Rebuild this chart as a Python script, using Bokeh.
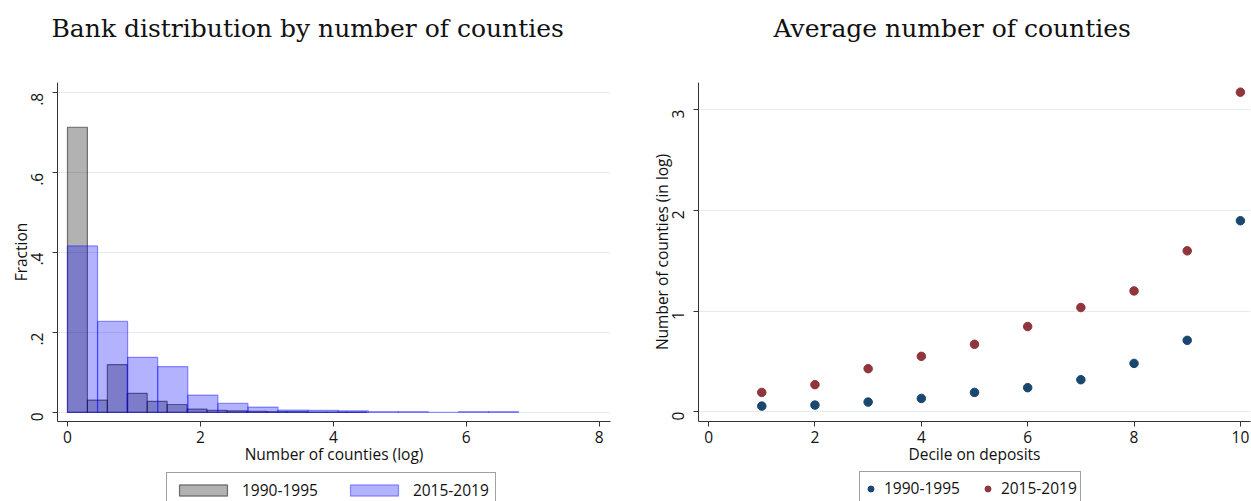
from bokeh.plotting import figure
from bokeh.layouts import row, column
from bokeh.models import Range1d, FixedTicker, Legend, LegendItem, Title
from bokeh.embed import file_html
from bokeh.resources import INLINE
import math

# ---------------- data ----------------
hist_title = "Bank distribution by number of counties"
scatter_title = "Average number of counties"

series_names = ["1990-1995", "2015-2019"]

# histogram: fraction of banks per bin of log(number of counties)
bin_width_1990 = 0.3
fraction_1990 = [0.714, 0.031, 0.120, 0.048, 0.028, 0.020, 0.0085, 0.005,
                 0.004, 0.003, 0.002, 0.002, 0.001, 0.001, 0.001]
bin_width_2015 = 0.4525
fraction_2015 = [0.417, 0.228, 0.138, 0.115, 0.0436, 0.0226, 0.0135, 0.006,
                 0.005, 0.004, 0.002, 0.002, 0.0, 0.002, 0.002]

hist_x_ticks = [0, 2, 4, 6, 8]
hist_y_ticks = [0, 0.2, 0.4, 0.6, 0.8]
hist_y_labels = ["0", ".2", ".4", ".6", ".8"]

# scatter: average log number of counties by decile of deposits
deciles = [1, 2, 3, 4, 5, 6, 7, 8, 9, 10]
counties_1990 = [0.056, 0.066, 0.096, 0.132, 0.192, 0.239, 0.318, 0.48, 0.709, 1.897]
counties_2015 = [0.192, 0.269, 0.428, 0.55, 0.67, 0.846, 1.035, 1.2, 1.598, 3.174]

scatter_x_ticks = [0, 2, 4, 6, 8, 10]
scatter_y_ticks = [0, 1, 2, 3]

# ---------------- style ----------------
SANS = "Open Sans"
SANS_SIZE = "15.5px"
SERIF = "DejaVu Serif"
GRID = "#e4ebee"
AXIS = "#333333"
NAVY = "#1a476f"
MAROON = "#90353b"
GRAY_STYLE = dict(fill_color="black", fill_alpha=0.3, line_color="black",
                  line_alpha=0.5, line_width=1.2)
BLUE_STYLE = dict(fill_color="blue", fill_alpha=0.3, line_color="blue",
                  line_alpha=0.4, line_width=1.2)

TITLE_H = 66
MAIN_H = 404
LEG_H = 31
LEFT_W = 626
RIGHT_W = 625


def style_axes(p):
    for ax in (p.xaxis[0], p.yaxis[0]):
        ax.axis_line_color = AXIS
        ax.major_tick_line_color = AXIS
        ax.minor_tick_line_color = None
        ax.major_tick_out = 5
        ax.major_tick_in = 0
        ax.major_label_text_font = SANS
        ax.major_label_text_font_size = SANS_SIZE
        ax.major_label_text_color = "#111111"
        ax.axis_label_text_font = SANS
        ax.axis_label_text_font_size = SANS_SIZE
        ax.axis_label_text_font_style = "normal"
        ax.axis_label_text_color = "#111111"
    p.xaxis[0].major_label_standoff = 4
    p.xaxis[0].axis_label_standoff = -3
    p.yaxis[0].major_label_standoff = 15
    p.yaxis[0].axis_label_standoff = -9
    p.yaxis[0].major_label_orientation = math.pi / 2
    p.xgrid.grid_line_color = None
    p.ygrid.grid_line_color = GRID
    p.ygrid.grid_line_width = 1
    p.outline_line_color = None
    p.background_fill_color = "white"
    p.border_fill_color = "white"


def blank_fig(width, height):
    f = figure(width=width, height=height, output_backend="svg", toolbar_location=None,
               x_axis_type=None, y_axis_type=None, min_border=0,
               x_range=Range1d(100, 101), y_range=Range1d(100, 101))
    f.grid.grid_line_color = None
    f.outline_line_color = None
    f.background_fill_color = "white"
    f.border_fill_color = "white"
    return f


def title_fig(width, text, offset):
    f = blank_fig(width, TITLE_H)
    f.title = Title(text=text, align="left", vertical_align="top",
                    text_font=SERIF, text_font_size="25px",
                    text_font_style="normal", text_color="#111111", standoff=26,
                    offset=offset)
    return f


def make_legend(items, loc, **kw):
    return Legend(items=items, orientation="horizontal", location=loc,
                  margin=0, label_text_font=SANS, label_text_font_size=SANS_SIZE,
                  label_text_color="#111111",
                  border_line_color="#444444", border_line_width=1,
                  background_fill_color="white", background_fill_alpha=1, **kw)


# ---------------- left: histogram ----------------
t1 = title_fig(LEFT_W, hist_title, 51)

p1 = figure(width=LEFT_W, height=MAIN_H, output_backend="svg", toolbar_location=None,
            x_range=Range1d(-0.15, 8.17), y_range=Range1d(-0.0226, 0.826),
            min_border_left=57, min_border_right=16, min_border_top=16,
            min_border_bottom=49)

left_1990 = [i * bin_width_1990 for i in range(len(fraction_1990))]
right_1990 = [l + bin_width_1990 for l in left_1990]
left_2015 = [i * bin_width_2015 for i in range(len(fraction_2015))]
right_2015 = [l + bin_width_2015 for l in left_2015]

p1.quad(left=left_1990, right=right_1990, bottom=0, top=fraction_1990, **GRAY_STYLE)
p1.quad(left=left_2015, right=right_2015, bottom=0, top=fraction_2015, **BLUE_STYLE)

p1.xaxis.ticker = FixedTicker(ticks=hist_x_ticks)
p1.yaxis.ticker = FixedTicker(ticks=hist_y_ticks)
p1.yaxis.major_label_overrides = {t: l for t, l in zip(hist_y_ticks, hist_y_labels)}
p1.xaxis.axis_label = "Number of counties (log)"
p1.yaxis.axis_label = "Fraction"
style_axes(p1)

# legend strip: proxy renderers draw the same data far outside the strip's ranges
l1 = blank_fig(LEFT_W, LEG_H)
g_gray = l1.quad(left=left_1990, right=right_1990, bottom=0, top=fraction_1990, **GRAY_STYLE)
g_blue = l1.quad(left=left_2015, right=right_2015, bottom=0, top=fraction_2015, **BLUE_STYLE)
l1.add_layout(make_legend([LegendItem(label=series_names[0], renderers=[g_gray]),
                           LegendItem(label=series_names[1], renderers=[g_blue])],
                          (166, -7), glyph_width=60, glyph_height=14,
                          label_standoff=9, spacing=26, padding=6), "center")

# ---------------- right: scatter ----------------
t2 = title_fig(RIGHT_W, scatter_title, 147)

p2 = figure(width=RIGHT_W, height=MAIN_H, output_backend="svg", toolbar_location=None,
            x_range=Range1d(-0.19, 10.19), y_range=Range1d(-0.097, 3.27),
            min_border_left=72, min_border_right=1, min_border_top=16,
            min_border_bottom=49)

p2.scatter(deciles, counties_1990, size=8.5, fill_color=NAVY, line_color=NAVY)
p2.scatter(deciles, counties_2015, size=8.5, fill_color=MAROON, line_color=MAROON)

p2.xaxis.ticker = FixedTicker(ticks=scatter_x_ticks)
p2.yaxis.ticker = FixedTicker(ticks=scatter_y_ticks)
p2.xaxis.axis_label = "Decile on deposits"
p2.yaxis.axis_label = "Number of counties (in log)"
style_axes(p2)

l2 = blank_fig(RIGHT_W, LEG_H)
g_navy = l2.scatter(deciles, counties_1990, size=8.5, fill_color=NAVY, line_color=NAVY)
g_maroon = l2.scatter(deciles, counties_2015, size=8.5, fill_color=MAROON, line_color=MAROON)
l2.add_layout(make_legend([LegendItem(label=series_names[0], renderers=[g_navy]),
                           LegendItem(label=series_names[1], renderers=[g_maroon])],
                          (233, -4), glyph_width=15, glyph_height=15, label_height=26,
                          label_standoff=6, spacing=20, padding=3), "center")

layout = column(row(t1, t2), row(p1, p2), row(l1, l2))
open("out.html", "w").write(file_html(layout, INLINE))
